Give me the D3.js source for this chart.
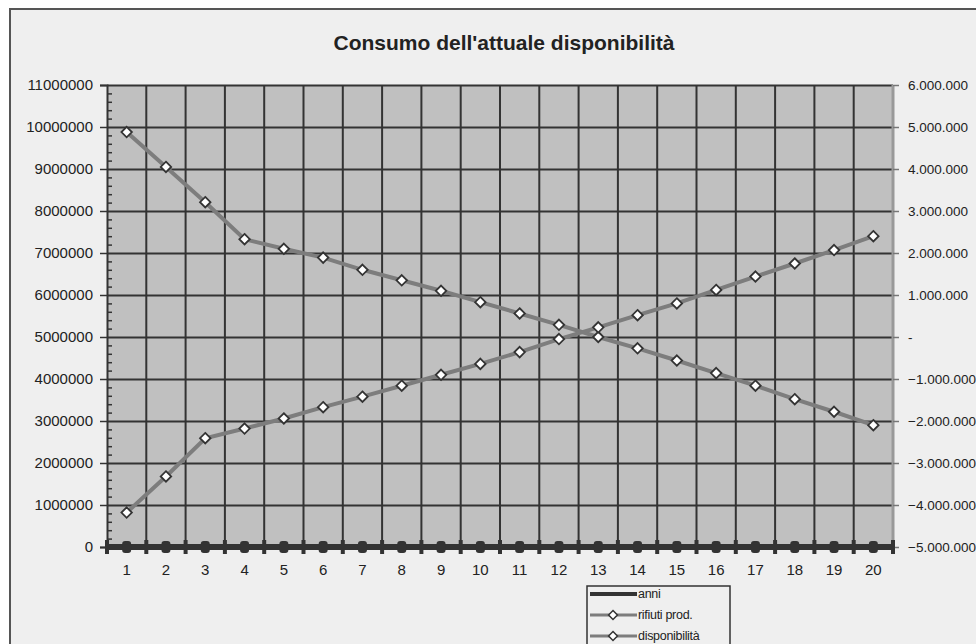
<!DOCTYPE html>
<html>
<head>
<meta charset="utf-8">
<script src="https://d3js.org/d3.v7.min.js"></script>
<style>
  body { margin:0; background:#fff; }
  text { font-family: Arial, "Liberation Sans", sans-serif; }
</style>
</head>
<body>
<script>
// categories (years) and series values
var anni = [1,2,3,4,5,6,7,8,9,10,11,12,13,14,15,16,17,18,19,20];
var rifiutiProd = [820000,1680000,2590000,2820000,3060000,3330000,3580000,3840000,4100000,4360000,
                   4640000,4950000,5230000,5520000,5800000,6120000,6440000,6750000,7070000,7400000];
// disponibilita sits on the right axis
var disponibilita = [4880000,4050000,3210000,2330000,2100000,1890000,1600000,1350000,1100000,830000,
                     560000,290000,0,-270000,-560000,-860000,-1160000,-1480000,-1780000,-2100000];
var leftTicks = [0,1000000,2000000,3000000,4000000,5000000,6000000,7000000,8000000,9000000,10000000,11000000];
var rightTicks = [-5000000,-4000000,-3000000,-2000000,-1000000,0,1000000,2000000,3000000,4000000,5000000,6000000];

var W = 976, H = 644;
var pLeft = 107, pRight = 893, pTop = 85, pBottom = 547;

var svg = d3.select("body").append("svg").attr("width", W).attr("height", H);

// chart area frame
svg.append("rect").attr("x", 10).attr("y", 9).attr("width", W).attr("height", H)
    .attr("fill", "#efefef").attr("stroke", "#555").attr("stroke-width", 2);

svg.append("text").attr("x", 504).attr("y", 50).attr("text-anchor", "middle")
    .attr("font-size", 21).attr("font-weight", "bold").attr("fill", "#222")
    .text("Consumo dell'attuale disponibilità");

var x = d3.scaleBand().domain(anni).range([pLeft, pRight]);
var cx = function (d) { return x(d) + x.bandwidth() / 2; };
var yL = d3.scaleLinear().domain([0, 11000000]).range([pBottom, pTop]);
var yR = d3.scaleLinear().domain([-5000000, 6000000]).range([pBottom, pTop]);

// plot area
svg.append("rect").attr("x", pLeft).attr("y", pTop).attr("width", pRight - pLeft).attr("height", pBottom - pTop)
    .attr("fill", "#c0c0c0");

// horizontal gridlines
svg.append("g").attr("transform", "translate(" + pLeft + ",0)")
    .call(d3.axisLeft(yL).tickValues(leftTicks).tickSize(-(pRight - pLeft)).tickFormat(""))
    .call(function (g) {
        g.select(".domain").remove();
        g.selectAll("line").attr("stroke", "#333").attr("stroke-width", 2);
    });

// vertical gridlines at category boundaries
var bounds = anni.map(function (d) { return x(d); }).concat([pRight]);
svg.append("g").selectAll("line").data(bounds.slice(1, -1)).enter().append("line")
    .attr("x1", function (d) { return d; }).attr("x2", function (d) { return d; })
    .attr("y1", pTop).attr("y2", pBottom).attr("stroke", "#333").attr("stroke-width", 2);

// right edge of plot
svg.append("line").attr("x1", pRight).attr("x2", pRight).attr("y1", pTop).attr("y2", pBottom)
    .attr("stroke", "#999").attr("stroke-width", 3);

// left axis
var fmtL = d3.format("d");
svg.append("g").attr("transform", "translate(" + pLeft + ",0)")
    .call(d3.axisLeft(yL).tickValues(leftTicks).tickSize(7).tickPadding(7).tickFormat(fmtL))
    .call(function (g) {
        g.select(".domain").attr("stroke", "#333").attr("stroke-width", 2);
        g.selectAll("line").attr("stroke", "#333").attr("stroke-width", 1.5);
        g.selectAll("text").attr("font-size", 15).attr("fill", "#222")
            .attr("font-family", "Arial, 'Liberation Sans', sans-serif");
    });
// minor ticks
var minor = d3.range(0, 11000001, 200000).filter(function (v) { return v % 1000000 !== 0; });
svg.append("g").attr("transform", "translate(" + pLeft + ",0)")
    .call(d3.axisRight(yL).tickValues(minor).tickSize(5).tickFormat(""))
    .call(function (g) {
        g.select(".domain").remove();
        g.selectAll("line").attr("stroke", "#333").attr("stroke-width", 1.5);
    });

// right axis
var it = d3.formatLocale({decimal: ",", thousands: ".", grouping: [3], currency: ["", ""]});
var fmtR = function (v) { return v === 0 ? "-" : it.format(",d")(v); };
svg.append("g").attr("transform", "translate(" + pRight + ",0)")
    .call(d3.axisRight(yR).tickValues(rightTicks).tickSize(6).tickPadding(9).tickFormat(fmtR))
    .call(function (g) {
        g.select(".domain").remove();
        g.selectAll("line").attr("stroke", "#777").attr("stroke-width", 1.5);
        g.selectAll("text").attr("font-size", 13.5).attr("fill", "#222")
            .attr("font-family", "Arial, 'Liberation Sans', sans-serif");
    });

// bottom axis: thick line with crossing ticks at the category boundaries
svg.append("line").attr("x1", pLeft).attr("x2", pRight).attr("y1", pBottom).attr("y2", pBottom)
    .attr("stroke", "#333").attr("stroke-width", 6);
svg.append("g").selectAll("line").data(bounds).enter().append("line")
    .attr("x1", function (d) { return d; }).attr("x2", function (d) { return d; })
    .attr("y1", pBottom - 7).attr("y2", pBottom + 7).attr("stroke", "#333").attr("stroke-width", 4);
svg.append("g").attr("transform", "translate(0," + pBottom + ")")
    .call(d3.axisBottom(x).tickSize(0).tickPadding(17))
    .call(function (g) {
        g.select(".domain").remove();
        g.selectAll("text").attr("font-size", 15).attr("fill", "#222")
            .attr("font-family", "Arial, 'Liberation Sans', sans-serif");
    });

// anni series
svg.append("path").datum(anni)
    .attr("fill", "none").attr("stroke", "#333").attr("stroke-width", 6)
    .attr("d", d3.line().x(cx).y(function (d) { return yL(d); }));
svg.append("g").selectAll("rect").data(anni).enter().append("rect")
    .attr("x", function (d) { return cx(d) - 4.5; }).attr("y", function (d) { return yL(d) - 6; })
    .attr("width", 9).attr("height", 12).attr("rx", 3).attr("fill", "#333");

var diamond = d3.symbol().type(d3.symbolDiamond2).size(70);

function drawSeries(vals, scale) {
    var pts = anni.map(function (a, i) { return [cx(a), scale(vals[i])]; });
    svg.append("path").datum(pts)
        .attr("fill", "none").attr("stroke", "#7d7d7d").attr("stroke-width", 4)
        .attr("d", d3.line());
    svg.append("g").selectAll("path").data(pts).enter().append("path")
        .attr("transform", function (p) { return "translate(" + p[0] + "," + p[1] + ")"; })
        .attr("d", diamond).attr("fill", "#fff").attr("stroke", "#333").attr("stroke-width", 1.8);
}
drawSeries(disponibilita, yR);
drawSeries(rifiutiProd, yL);

// legend
var lg = svg.append("g");
lg.append("rect").attr("x", 587).attr("y", 586).attr("width", 143).attr("height", 80)
    .attr("fill", "#efefef").attr("stroke", "#333").attr("stroke-width", 1.5);
var legendItems = [
    {name: "anni", y: 594, dark: true},
    {name: "rifiuti prod.", y: 615, dark: false},
    {name: "disponibilità", y: 636, dark: false}
];
legendItems.forEach(function (d) {
    lg.append("line").attr("x1", 590).attr("x2", 637).attr("y1", d.y).attr("y2", d.y)
        .attr("stroke", d.dark ? "#333" : "#7d7d7d").attr("stroke-width", d.dark ? 4 : 3);
    if (!d.dark) {
        lg.append("path").attr("transform", "translate(613," + d.y + ")")
            .attr("d", d3.symbol().type(d3.symbolDiamond2).size(50))
            .attr("fill", "#fff").attr("stroke", "#333").attr("stroke-width", 1.5);
    }
    lg.append("text").attr("x", 638).attr("y", d.y + 4).attr("font-size", 12.5)
        .attr("fill", "#222").attr("letter-spacing", -0.3).text(d.name);
});
</script>
</body>
</html>
